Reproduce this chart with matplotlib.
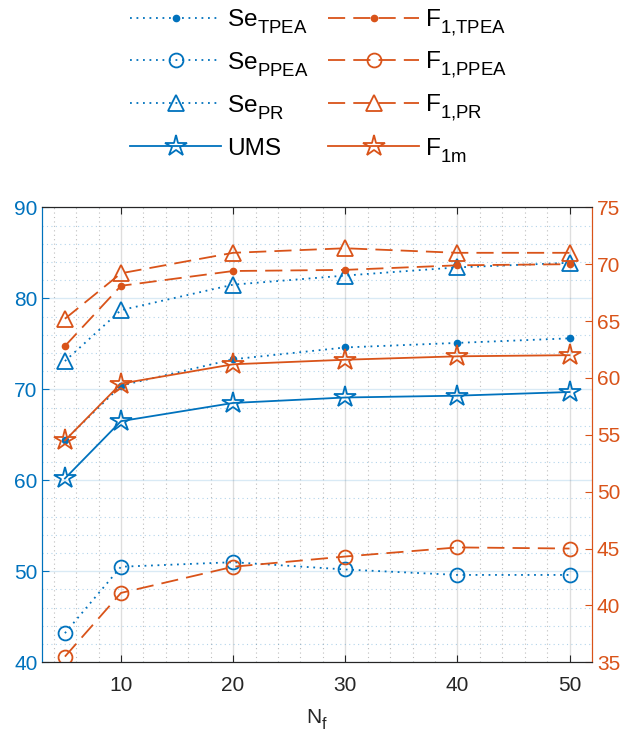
import numpy as np
import matplotlib.pyplot as plt
from matplotlib.ticker import MultipleLocator
from matplotlib.lines import Line2D

# MATLAB-style subscripts: bigger and dropped lower than mathtext default
try:
    import matplotlib._mathtext as _mt
    _mt.SHRINK_FACTOR = 0.76
    _mt.FontConstantsBase.sub1 = 0.6
except Exception:
    pass

plt.rcParams['font.family'] = ['Liberation Sans', 'DejaVu Sans']
plt.rcParams['mathtext.fontset'] = 'custom'
plt.rcParams['mathtext.rm'] = 'Liberation Sans'
plt.rcParams['mathtext.it'] = 'Liberation Sans'

# data
nf = [5, 10, 20, 30, 40, 50]
se_tpea = [64.4, 70.4, 73.3, 74.6, 75.1, 75.6]
se_ppea = [43.2, 50.5, 51.0, 50.2, 49.6, 49.6]
se_pr = [73.1, 78.7, 81.5, 82.5, 83.4, 83.9]
ums = [60.2, 66.5, 68.5, 69.1, 69.3, 69.7]
f1_tpea = [62.8, 68.1, 69.4, 69.5, 69.9, 70.0]
f1_ppea = [35.5, 41.1, 43.4, 44.3, 45.1, 45.0]
f1_pr = [65.2, 69.2, 71.0, 71.4, 71.0, 71.0]
f1m = [54.5, 59.5, 61.2, 61.6, 61.9, 62.0]

blue = '#0072BD'
orange = '#D95319'
dark = '#262626'

W, H = 622, 731
fig = plt.figure(figsize=(W / 100, H / 100), dpi=100)
ax = fig.add_axes([0.0683, 0.094, 0.8834, 0.6224])
ax2 = ax.twinx()

dot = (0, (1, 2.6))
dash = (0, (9.5, 4.5))
mew = 1.3

# left axis: sensitivity + UMS
h1, = ax.plot(nf, se_tpea, linestyle=dot, color=blue, lw=1.3, marker='o', ms=4.5,
              mfc=blue, mec=blue, label=r'Se$_{\mathrm{TPEA}}$')
h2, = ax.plot(nf, se_ppea, linestyle=dot, color=blue, lw=1.3, marker='o', ms=10,
              mfc='none', mec=blue, mew=mew, label=r'Se$_{\mathrm{PPEA}}$')
h3, = ax.plot(nf, se_pr, linestyle=dot, color=blue, lw=1.3, marker='^', ms=12,
              mfc='none', mec=blue, mew=mew, label=r'Se$_{\mathrm{PR}}$')
h4, = ax.plot(nf, ums, linestyle='-', color=blue, lw=1.3, marker='*', ms=16,
              mfc='none', mec=blue, mew=mew, label='UMS')

# right axis: F1 scores
h5, = ax2.plot(nf, f1_tpea, linestyle=dash, color=orange, lw=1.3, marker='o', ms=4.5,
               mfc=orange, mec=orange, label=r'F$_{\mathrm{1{,}TPEA}}$')
h6, = ax2.plot(nf, f1_ppea, linestyle=dash, color=orange, lw=1.3, marker='o', ms=10,
               mfc='none', mec=orange, mew=mew, label=r'F$_{\mathrm{1{,}PPEA}}$')
h7, = ax2.plot(nf, f1_pr, linestyle=dash, color=orange, lw=1.3, marker='^', ms=12,
               mfc='none', mec=orange, mew=mew, label=r'F$_{\mathrm{1{,}PR}}$')
h8, = ax2.plot(nf, f1m, linestyle='-', color=orange, lw=1.3, marker='*', ms=16,
               mfc='none', mec=orange, mew=mew, label=r'F$_{\mathrm{1m}}$')

ax.set_xlim(3, 52)
ax.set_ylim(40, 90)
ax2.set_ylim(35, 75)
ax.set_xticks([10, 20, 30, 40, 50])
ax.set_yticks(np.arange(40, 91, 10))
ax2.set_yticks(np.arange(35, 76, 5))
ax.xaxis.set_minor_locator(MultipleLocator(2))
ax.yaxis.set_minor_locator(MultipleLocator(2))

# grids
ax.grid(True, which='major', axis='x', color=dark, alpha=0.15, lw=1)
ax.grid(True, which='major', axis='y', color=blue, alpha=0.15, lw=1)
ax.grid(True, which='minor', axis='x', color=dark, alpha=0.3, lw=0.8, linestyle=(0, (1, 3)))
ax.grid(True, which='minor', axis='y', color=blue, alpha=0.3, lw=0.8, linestyle=(0, (1, 3)))
ax.set_axisbelow(True)

ax.tick_params(axis='x', which='major', direction='in', top=True, length=5, colors=dark,
               labelsize=15, pad=10)
ax.tick_params(axis='y', which='major', direction='in', length=5, colors=blue, labelsize=15)
ax.tick_params(which='minor', length=0)
ax2.tick_params(axis='y', which='major', direction='in', length=5, colors=orange, labelsize=15)
ax2.tick_params(which='minor', length=0)

for a in (ax, ax2):
    a.spines['top'].set_color(dark)
    a.spines['bottom'].set_color(dark)
    a.spines['left'].set_color(blue)
    a.spines['right'].set_color(orange)

ax.set_xlabel(r'N$_{\mathrm{f}}$', fontsize=15, color=dark, labelpad=9)

# legend above the axes, two columns with evenly spaced rows (MATLAB style)
columns = [[h1, h2, h3, h4], [h5, h6, h7, h8]]
for c, col in enumerate(columns):
    x0 = 130 + c * 198
    x1 = x0 + 91
    for r, h in enumerate(col):
        yp = 17.5 + r * 42.9
        yf = 1 - yp / H
        seg = Line2D([x0 / W, x1 / W], [yf, yf])
        seg.update_from(h)
        seg.set_marker('None')
        mk = Line2D([(x0 + x1) / 2 / W], [yf])
        mk.update_from(h)
        mk.set_linestyle('None')
        for art in (seg, mk):
            art.set_transform(fig.transFigure)
            art.set_clip_on(False)
            fig.add_artist(art)
        fig.text((x1 + 6) / W, 1 - (yp + 8.8) / H, h.get_label(), fontsize=17.6,
                 color='black', ha='left', va='baseline')

plt.savefig('out.png', dpi=100)
